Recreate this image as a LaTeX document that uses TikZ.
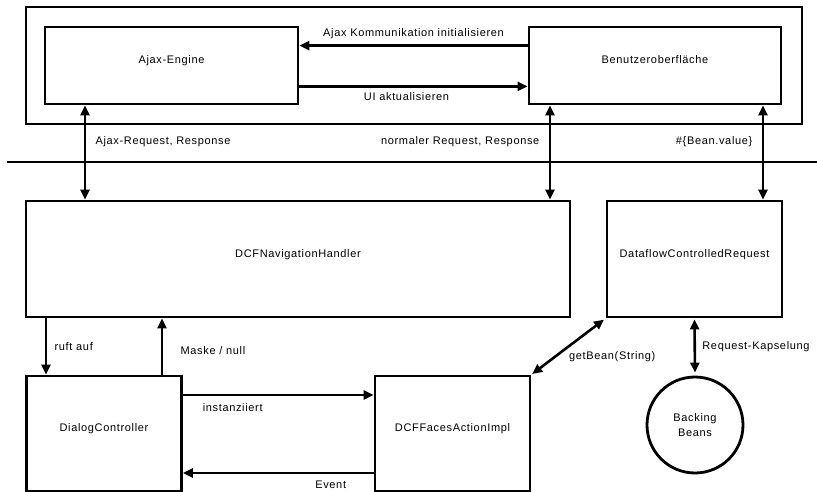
\documentclass[tikz,border=0pt]{standalone}
\usepackage{fontspec}
\setmainfont{Liberation Sans}[LetterSpace=6]
\usepackage{tikz}
\usetikzlibrary{arrows.meta,positioning,shapes.geometric,calc}

\begin{document}
\begin{tikzpicture}[
  x=1pt, y=-1pt,
  font=\fontsize{11}{13}\selectfont,
  box/.style={draw, line width=2.8pt, text height=8pt, text depth=12pt},
  bean/.style={draw, circle, line width=2.8pt, minimum size=96pt, align=center},
  arr/.style={-{Triangle[length=10pt,width=9pt]}, line width=2.6pt},
  dbl/.style={{Triangle[length=10pt,width=9pt]}-{Triangle[length=10pt,width=9pt]}, line width=2.6pt}
]
  \useasboundingbox (0,0) rectangle (817,492);

  % client side
  \node[box, minimum width=776pt, minimum height=117pt] (frame) at (414,65.5) {};
  \node[box, minimum width=253pt, minimum height=77pt] (ajax) at (171.5,65.5) {Ajax-Engine};
  \node[box, minimum width=252pt, minimum height=77pt] (ui)   at (655,65.5)   {Benutzeroberfläche};

  % server side
  \node[box, minimum width=544pt, minimum height=116pt] (nav)   at (298,259)   {DCFNavigationHandler};
  \node[box, minimum width=175pt, minimum height=116pt] (dcr)   at (694.5,259) {DataflowControlledRequest};
  \node[box, minimum width=155pt, minimum height=115pt] (dlg)   at (104,433.5) {DialogController};
  \node[box, minimum width=155pt, minimum height=115pt] (faces) at (452.5,433.5) {DCFFacesActionImpl};
  \node[bean] (bb) at (695,425) {Backing\\[2pt]Beans};

  \draw[line width=2.8pt] (7,162) -- (817,162);

  \draw[arr] ([yshift=-20pt]ui.north west) -- node[above=2pt] {Ajax Kommunikation initialisieren} ([yshift=-20pt]ajax.north east);
  \draw[arr] ([yshift=19pt]ajax.south east) -- node[below=1pt, xshift=-7pt] {UI aktualisieren} ([yshift=19pt]ui.south west);

  \draw[dbl] (ajax.south -| 85,0)  -- node[pos=0.39, right=6pt] {Ajax-Request, Response} (nav.north -| 85,0);
  \draw[dbl] (ui.south -| 550,0)   -- node[pos=0.39, left=6pt] {normaler Request, Response} (nav.north -| 550,0);
  \draw[dbl] (ui.south -| 763,0)   -- node[pos=0.39, left=6pt] {\#\{Bean.value\}} (dcr.north -| 763,0);

  \draw[arr] (nav.south -| 46,0)  -- node[pos=0.5, right=4pt] {ruft auf} (dlg.north -| 46,0);
  \draw[arr] (dlg.north -| 162,0) -- node[pos=0.42, right=14pt] {Maske / null} (nav.south -| 162,0);

  \draw[arr] (dlg.east |- 0,395)   -- node[pos=0.08, anchor=north west, yshift=-4pt] {instanziiert} (faces.west |- 0,395);
  \draw[arr] (faces.west |- 0,473) -- node[pos=0.12, anchor=north east, yshift=-3pt] {Event} (dlg.east |- 0,473);

  \draw[dbl, shorten <=1pt, shorten >=2pt] (faces.north east) -- node[midway, anchor=north west, xshift=-4pt] {getBean(String)} (dcr.south west);
  \draw[dbl, shorten <=1pt, shorten >=3pt] (dcr.south) -- node[midway, right=3pt] {Request-Kapselung} (bb.north);
\end{tikzpicture}
\end{document}
